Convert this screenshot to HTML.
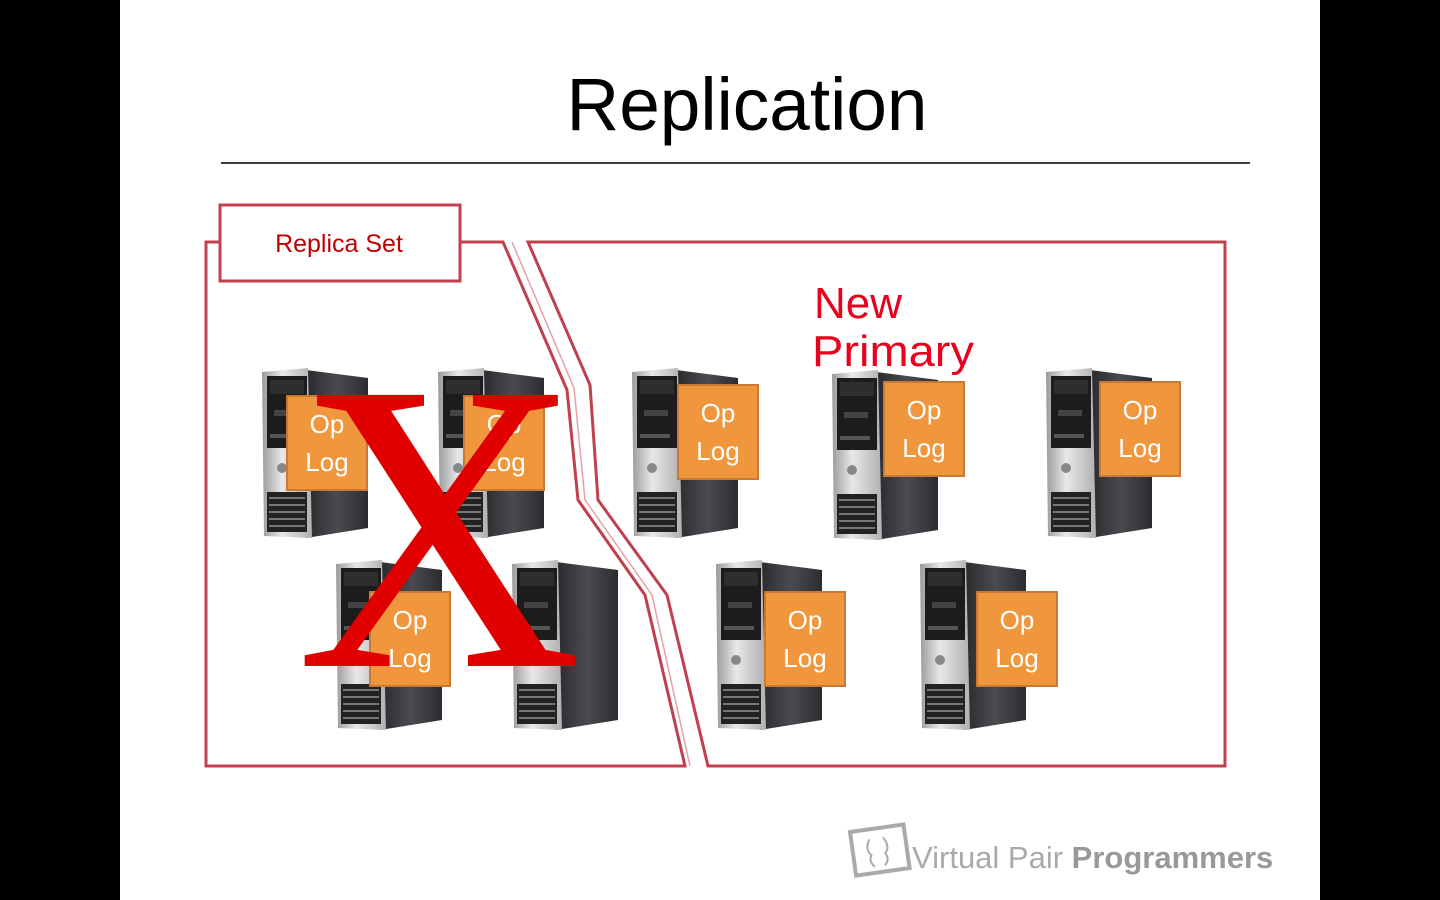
<!DOCTYPE html>
<html><head><meta charset="utf-8"><style>
html,body{margin:0;padding:0;background:#000;}
svg{display:block;}
</style></head><body>
<svg width="1440" height="900" viewBox="0 0 1440 900" xmlns="http://www.w3.org/2000/svg">
<defs>
<linearGradient id="side" x1="0" x2="1"><stop offset="0" stop-color="#2a2a2e"/><stop offset="0.5" stop-color="#4a4a50"/><stop offset="1" stop-color="#2c2c30"/></linearGradient>
<linearGradient id="front" x1="0" x2="1"><stop offset="0" stop-color="#9a9a9a"/><stop offset="0.4" stop-color="#e8e8e8"/><stop offset="1" stop-color="#b0b0b0"/></linearGradient>
<g id="srv">
<polygon points="44,2 106,10 106,160 44,170" fill="url(#side)"/>
<polygon points="0,4 46,0 50,170 2,168" fill="url(#front)"/>
<rect x="5" y="8" width="40" height="72" fill="#1c1c1c"/>
<rect x="8" y="12" width="34" height="14" fill="#2e2e2e"/>
<rect x="12" y="42" width="24" height="6" fill="#444"/>
<rect x="8" y="66" width="30" height="4" fill="#555"/>
<circle cx="20" cy="100" r="5" fill="#888"/>
<rect x="5" y="124" width="40" height="40" fill="#222"/>
<g stroke="#777" stroke-width="2"><line x1="7" y1="130" x2="43" y2="130"/><line x1="7" y1="137" x2="43" y2="137"/><line x1="7" y1="144" x2="43" y2="144"/><line x1="7" y1="151" x2="43" y2="151"/><line x1="7" y1="158" x2="43" y2="158"/></g>
</g>
<g id="op">
<rect x="0" y="0" width="80" height="94" fill="#f0963c" stroke="#c87a34" stroke-width="2"/>
<text x="40" y="37" text-anchor="middle" font-family="Liberation Sans, sans-serif" font-size="26" fill="#fff">Op</text>
<text x="40" y="75" text-anchor="middle" font-family="Liberation Sans, sans-serif" font-size="26" fill="#fff">Log</text>
</g>
</defs>
<rect x="120" y="0" width="1200" height="900" fill="#fff"/>
<text x="747" y="130" text-anchor="middle" font-family="Liberation Sans, sans-serif" font-size="74" fill="#000" textLength="361" lengthAdjust="spacingAndGlyphs">Replication</text>
<line x1="221" y1="163" x2="1250" y2="163" stroke="#000" stroke-width="1.5"/>

<polyline points="220,242 206,242 206,766 685,766 645,595 578,500 567,390 503,242 460,242" fill="none" stroke="#c0404e" stroke-width="3"/>
<polyline points="512,242 574,388 585,500 652,595 690,766" fill="none" stroke="#e8a0a8" stroke-width="1.5"/>
<polygon points="528,242 1225,242 1225,766 708,766 667,595 598,500 590,385" fill="none" stroke="#c0404e" stroke-width="3"/>

<rect x="220" y="205" width="240" height="76" fill="#fff" stroke="#c0404e" stroke-width="3"/>
<text x="339" y="252" text-anchor="middle" font-family="Liberation Sans, sans-serif" font-size="25" fill="#c00000">Replica Set</text>

<use href="#srv" x="262" y="368"/>
<use href="#srv" x="438" y="368"/>
<use href="#srv" x="632" y="368"/>
<use href="#srv" x="832" y="370"/>
<use href="#srv" x="1046" y="368"/>
<use href="#srv" x="336" y="560"/>
<use href="#srv" x="512" y="560"/>
<use href="#srv" x="716" y="560"/>
<use href="#srv" x="920" y="560"/>

<use href="#op" x="287" y="396"/>
<use href="#op" x="464" y="396"/>
<use href="#op" x="678" y="385"/>
<use href="#op" x="884" y="382"/>
<use href="#op" x="1100" y="382"/>
<use href="#op" x="370" y="592"/>
<use href="#op" x="765" y="592"/>
<use href="#op" x="977" y="592"/>

<text x="296" y="666" font-family="Liberation Serif, serif" font-size="414" fill="#e00000" textLength="286" lengthAdjust="spacingAndGlyphs">X</text>

<text x="814" y="318" font-family="Liberation Sans, sans-serif" font-size="44" fill="#e8001c">New</text>
<text x="812" y="366" font-family="Liberation Sans, sans-serif" font-size="44" fill="#e8001c" textLength="162" lengthAdjust="spacingAndGlyphs">Primary</text>

<g transform="translate(850,832) rotate(-8)">
<rect x="0" y="0" width="54" height="44" fill="none" stroke="#aaa" stroke-width="4"/>
<path d="M18 10 q-6 10 0 16 q-4 6 2 12 M32 10 q6 10 0 16 q4 6 -2 12" fill="none" stroke="#aaa" stroke-width="2"/>
</g>
<text x="912" y="868" font-family="Liberation Sans, sans-serif" font-size="31" fill="#aaa">Virtual Pair <tspan font-weight="bold" fill="#999">Programmers</tspan></text>
</svg>
</body></html>
